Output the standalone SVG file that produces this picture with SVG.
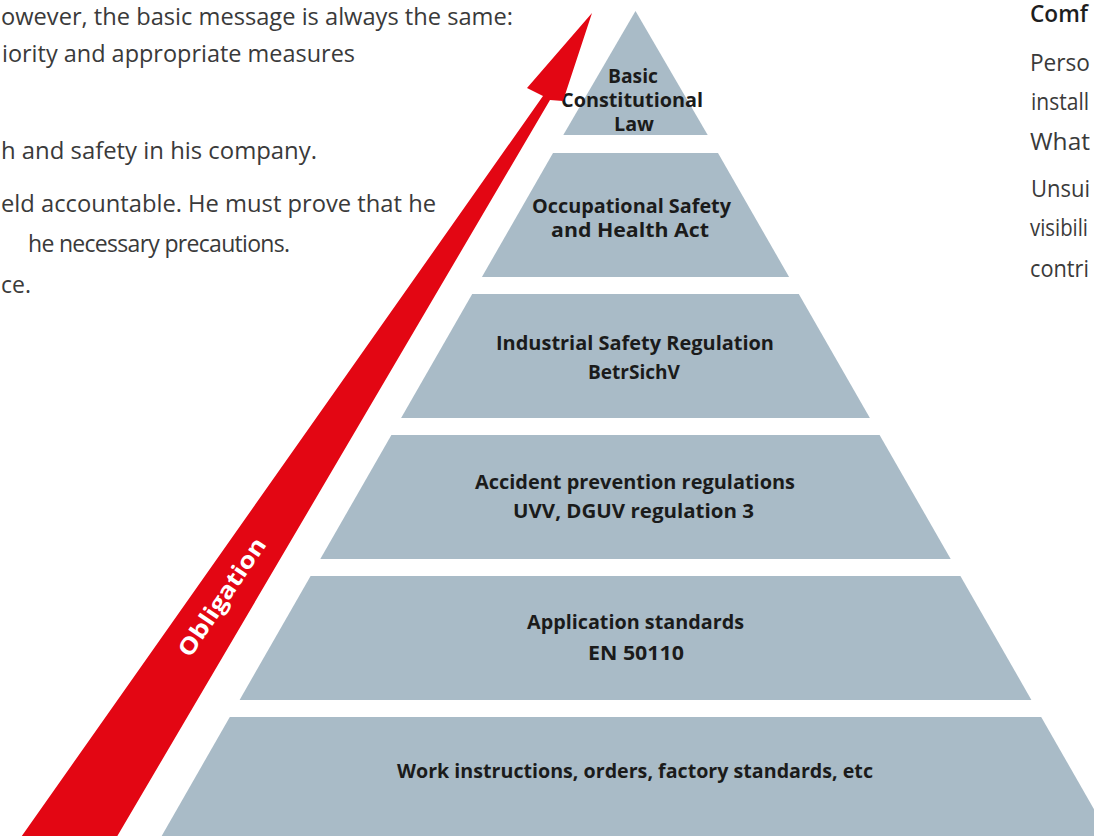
<svg xmlns="http://www.w3.org/2000/svg" width="1094" height="836" viewBox="0 0 1094 836">
<style>
.layer{fill:#A9BBC7;}
.lbl{font-family:"Open Sans","DejaVu Sans",sans-serif;font-weight:700;font-size:19px;fill:#1b1b1b;text-anchor:middle;}
.body{font-family:"Open Sans","Liberation Sans",sans-serif;font-size:23px;fill:#3a3a3a;}
.rbody{font-family:"Open Sans","Liberation Sans",sans-serif;font-size:24px;fill:#3a3a3a;}
.head{font-family:"Open Sans","Liberation Sans",sans-serif;font-size:23px;font-weight:600;fill:#1e1e1e;}
.arrow{fill:#E30613;}
.arrowtxt{font-family:"Open Sans","DejaVu Sans",sans-serif;font-weight:700;font-size:23px;fill:#ffffff;text-anchor:middle;}
</style>
<rect width="1094" height="836" fill="#ffffff"/>

<g id="left-text" class="body">
<text x="1" y="25" textLength="512" lengthAdjust="spacingAndGlyphs">owever, the basic message is always the same:</text>
<text x="2" y="62" textLength="353" lengthAdjust="spacingAndGlyphs">iority and appropriate measures</text>
<text x="1" y="159" textLength="316" lengthAdjust="spacingAndGlyphs">h and safety in his company.</text>
<text x="1" y="212" textLength="435" lengthAdjust="spacingAndGlyphs">eld accountable. He must prove that he</text>
<text x="28" y="252" textLength="262" lengthAdjust="spacing">he necessary precautions.</text>
<text x="1" y="293">ce.</text>
</g>

<g id="right-text">
<text class="head" x="1030" y="22" textLength="58" lengthAdjust="spacingAndGlyphs">Comf</text>
<g class="rbody">
<text x="1030" y="71" textLength="60" lengthAdjust="spacingAndGlyphs">Perso</text>
<text x="1031" y="110" textLength="58" lengthAdjust="spacingAndGlyphs">install</text>
<text x="1030" y="150" textLength="60" lengthAdjust="spacingAndGlyphs">What</text>
<text x="1031" y="197" textLength="59" lengthAdjust="spacingAndGlyphs">Unsui</text>
<text x="1030" y="236" textLength="58" lengthAdjust="spacingAndGlyphs">visibili</text>
<text x="1030" y="277" textLength="59" lengthAdjust="spacingAndGlyphs">contri</text>
</g>
</g>

<g id="layer-1">
<polygon class="layer" points="635.5,11 707.7,135 563.3,135"/>
<text class="lbl" x="633" y="83" textLength="50" lengthAdjust="spacingAndGlyphs">Basic</text>
<text class="lbl" x="632" y="107" textLength="142" lengthAdjust="spacingAndGlyphs">Constitutional</text>
<text class="lbl" x="634" y="131" textLength="40" lengthAdjust="spacingAndGlyphs">Law</text>
</g>

<g id="layer-2">
<polygon class="layer" points="553,153 718,153 789.1,277 481.9,277"/>
<text class="lbl" x="631.5" y="213" textLength="199" lengthAdjust="spacingAndGlyphs">Occupational Safety</text>
<text class="lbl" x="630" y="237" textLength="158" lengthAdjust="spacingAndGlyphs">and Health Act</text>
</g>

<g id="layer-3">
<polygon class="layer" points="472.2,294 798.8,294 869.9,418 401.1,418"/>
<text class="lbl" x="635" y="350" textLength="278" lengthAdjust="spacingAndGlyphs">Industrial Safety Regulation</text>
<text class="lbl" x="634" y="379" textLength="92" lengthAdjust="spacingAndGlyphs">BetrSichV</text>
</g>

<g id="layer-4">
<polygon class="layer" points="391.4,435 879.6,435 950.7,559 320.3,559"/>
<text class="lbl" x="635" y="489" textLength="320" lengthAdjust="spacingAndGlyphs">Accident prevention regulations</text>
<text class="lbl" x="633.5" y="518" textLength="241" lengthAdjust="spacingAndGlyphs">UVV, DGUV regulation 3</text>
</g>

<g id="layer-5">
<polygon class="layer" points="310.6,576 960.4,576 1031.4,700 239.6,700"/>
<text class="lbl" x="635.5" y="629" textLength="217" lengthAdjust="spacingAndGlyphs">Application standards</text>
<text class="lbl" x="636" y="660" textLength="96" lengthAdjust="spacingAndGlyphs">EN 50110</text>
</g>

<g id="layer-6">
<polygon class="layer" points="229.8,717 1041.2,717 1112.2,841 158.8,841"/>
<text class="lbl" x="635" y="778" textLength="476" lengthAdjust="spacingAndGlyphs">Work instructions, orders, factory standards, etc</text>
</g>

<g id="connectors">
<polygon class="arrow" points="592,13 563,101 550,100 115,840 19,840 543,96 527,88"/>
<text class="arrowtxt" transform="translate(222,597) rotate(-56)" x="0" y="8" textLength="138" lengthAdjust="spacingAndGlyphs">Obligation</text>
</g>
</svg>
